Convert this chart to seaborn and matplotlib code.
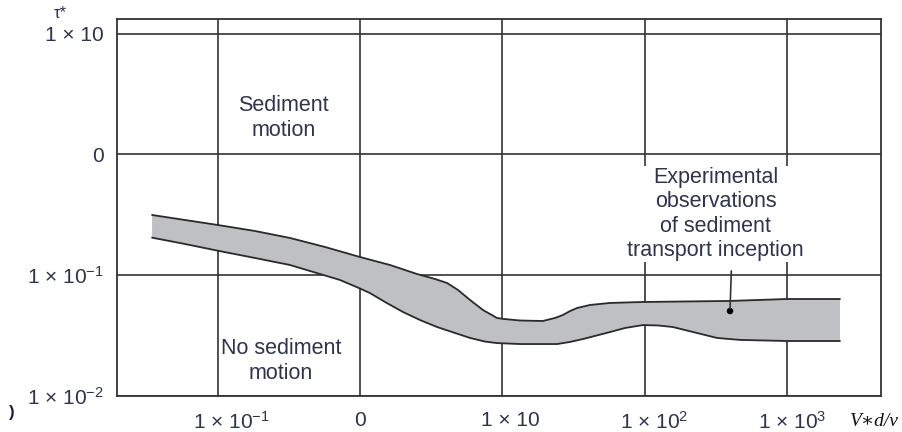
import numpy as np
import pandas as pd
import matplotlib
matplotlib.use("Agg")
import matplotlib.pyplot as plt
import matplotlib.transforms as mtransforms
import seaborn as sns

# ---- data (Re* = V*d/v, tau*) ----
upper_x = [0.0346, 0.0589, 0.1, 0.1828, 0.322, 0.567, 0.98, 1.622, 2.509, 3.36, 4.08, 4.87, 5.92,
           7.30, 9.14, 10.1, 13.3, 19.2, 23.4, 26.6, 29.8, 33.4, 41.2, 56.9, 97, 396, 995, 2344]
upper_y = [0.3145, 0.2858, 0.2599, 0.2317, 0.2028, 0.1708, 0.1419, 0.1211, 0.1020, 0.0927, 0.0859,
           0.0752, 0.0621, 0.0513, 0.0441, 0.0433, 0.0420, 0.0416, 0.0441, 0.0467, 0.0503, 0.0533,
           0.0565, 0.0587, 0.0598, 0.0610, 0.0633, 0.0633]
lower_x = [0.0346, 0.0589, 0.1, 0.1828, 0.322, 0.523, 0.7228, 0.98, 1.17, 1.496, 2.0, 2.635, 3.47,
           4.64, 5.92, 7.54, 9.14, 13.3, 24.2, 29.8, 36.8, 46.1, 56.9, 72.5, 97, 123.6, 157, 224.8,
           321, 465.6, 995, 2344]
lower_y = [0.204, 0.1808, 0.1591, 0.1384, 0.1211, 0.1020, 0.0910, 0.0781, 0.0710, 0.0598, 0.0494,
           0.0424, 0.0371, 0.0331, 0.0301, 0.0281, 0.0273, 0.0268, 0.0268, 0.0279, 0.0295, 0.0316,
           0.0337, 0.0364, 0.0385, 0.0382, 0.0371, 0.0334, 0.0301, 0.0290, 0.0284, 0.0284]

x_ticks = [0.1, 1, 10, 100, 1000]
x_ticklabels = ["1 × 10$^{-1}$", "0", "1 × 10", "1 × 10$^{2}$", "1 × 10$^{3}$"]
y_ticks = [0.01, 0.1, 1, 10]
y_ticklabels = ["1 × 10$^{-2}$", "1 × 10$^{-1}$", "0", "1 × 10"]

marker_x = [396]
marker_y = [0.0503]

sns.set_style("white")
plt.rcParams["font.family"] = ["Liberation Sans", "DejaVu Sans"]
plt.rcParams["mathtext.fontset"] = "custom"
plt.rcParams["mathtext.rm"] = "Liberation Sans"
plt.rcParams["mathtext.it"] = "Liberation Sans:italic"
plt.rcParams["mathtext.bf"] = "Liberation Sans:bold"
plt.rcParams["mathtext.default"] = "regular"

TXT = "#2d3450"
LINE = "#333333"

fig = plt.figure(figsize=(9.02, 4.32), dpi=100)
ax = fig.add_axes([0.1294, 0.0840, 0.8470, 0.8713])
ax.set_xscale("log")
ax.set_yscale("log")

# band fill
poly_x = np.concatenate([upper_x, lower_x[::-1]])
poly_y = np.concatenate([upper_y, lower_y[::-1]])
ax.fill(poly_x, poly_y, color="#bfc0c4", lw=0, zorder=2)

up = pd.DataFrame({"x": upper_x, "y": upper_y})
lo = pd.DataFrame({"x": lower_x, "y": lower_y})
for df in (up, lo):
    sns.lineplot(data=df, x="x", y="y", ax=ax, color="#2a2a2a", lw=1.3, sort=False,
                 estimator=None, zorder=3, solid_joinstyle="round", solid_capstyle="round")

sns.scatterplot(x=marker_x, y=marker_y, ax=ax, color="black", s=22, zorder=4, edgecolor="none")
ax.annotate("", xy=(marker_x[0], marker_y[0]), xytext=(405, 0.114),
            arrowprops=dict(arrowstyle="-", color="#333333", lw=1.2), zorder=4)

ax.set_xlim(10 ** -1.709, 10 ** 3.656)
ax.set_ylim(0.01, 10 ** 1.119)
ax.set_xticks(x_ticks)
ax.set_xticklabels(x_ticklabels)
ax.set_yticks(y_ticks)
ax.set_yticklabels(y_ticklabels)
ax.minorticks_off()
ax.grid(True, which="major", color=LINE, lw=1.2, zorder=1)
ax.set_axisbelow(True)
ax.tick_params(axis="x", which="major", pad=6)
ax.tick_params(axis="both", which="major", direction="out", length=5, width=1.2,
               color=LINE, labelsize=15, labelcolor=TXT)
ax.tick_params(axis="y", which="major", pad=4)
ax.set_xlabel("")
ax.set_ylabel("")
for s in ax.spines.values():
    s.set_color(LINE)
    s.set_linewidth(1.3)
    s.set_visible(True)

# x tick labels in the reference sit slightly right of their ticks
x_label_shift_px = [14, 0, 8, 9, 5]
for lab, dx in zip(ax.get_xticklabels(), x_label_shift_px):
    lab.set_transform(lab.get_transform() + mtransforms.ScaledTranslation(dx / 100, 0, fig.dpi_scale_trans))

# text annotations
ax.text(0.29, 2.0, "Sediment\nmotion", ha="center", va="center", fontsize=15.5,
        color=TXT, linespacing=1.2, zorder=5)
ax.text(0.279, 0.0194, "No sediment\nmotion", ha="center", va="center", fontsize=15.5,
        color=TXT, linespacing=1.2, zorder=5)
ax.text(313, 0.321, "Experimental\nobservations\nof sediment\ntransport inception",
        ha="center", va="center", fontsize=15.5, color=TXT, linespacing=1.2, zorder=5,
        bbox=dict(facecolor="white", edgecolor="none", pad=1))

fig.text(60 / 902, 1 - 13 / 432, "τ*", ha="center", va="center", fontsize=12, color=TXT)
fig.text(874 / 902, 1 - 421 / 432, "V∗d/v", ha="center", va="center", fontsize=14,
         family=["Liberation Serif", "DejaVu Serif"], style="italic", color="#111111")
fig.text(12 / 902, 1 - 413 / 432, ")", ha="center", va="center", fontsize=12,
         color="#1a1a50", fontweight="bold")

fig.savefig("out.png", dpi=100)
